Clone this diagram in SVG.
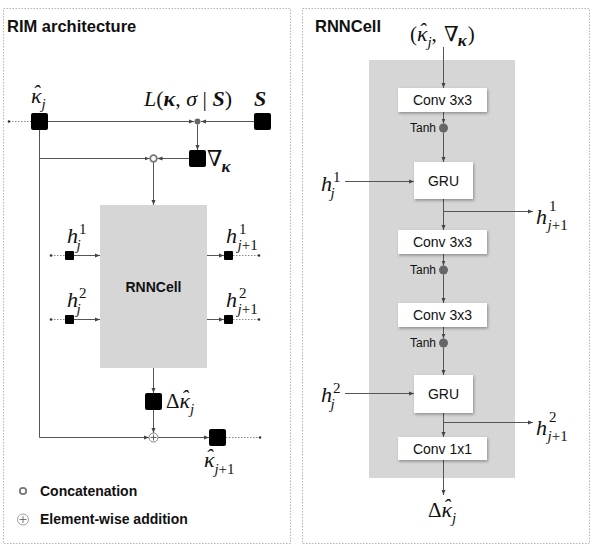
<svg xmlns="http://www.w3.org/2000/svg" width="592" height="552" viewBox="0 0 592 552">
<defs>
<marker id="ar" viewBox="0 0 6 6" refX="6" refY="3" markerWidth="5" markerHeight="5" orient="auto" markerUnits="userSpaceOnUse"><path d="M0,0.6 L6,3 L0,5.4 Z" fill="#444"/></marker>
<filter id="sh" x="-20%" y="-30%" width="140%" height="170%"><feDropShadow dx="1" dy="1.5" stdDeviation="1.5" flood-color="#000" flood-opacity="0.35"/></filter>
</defs>
<style>
.panel{fill:#fff;stroke:#b5b5b5;stroke-width:1;stroke-dasharray:1.5 1.5}
.ln{stroke:#555;stroke-width:1;fill:none}
.arr{marker-end:url(#ar)}
.dt{stroke:#888;stroke-width:1;stroke-dasharray:1.5 1.5;fill:none}
.end{fill:#333}
.sq{fill:#000}
.cell{fill:#d6d6d6}
.box{fill:#fff;filter:url(#sh)}
.tdot{fill:#666}
.sans{font-family:"Liberation Sans",Arial,Helvetica,sans-serif;fill:#111}
.ttl{font-size:16.5px;font-weight:bold}
.lbl{font-size:14px;text-anchor:middle}
.tanh{font-size:12px;text-anchor:end}
.leg{font-size:14px;font-weight:bold}
.m{font-family:"Liberation Serif","DejaVu Serif","Times New Roman",serif;font-style:italic;font-size:22px;fill:#111}
.up{font-style:normal}
.bd{font-weight:bold}
.sub{font-size:15px}
</style>
<rect width="592" height="552" fill="#fff"/>
<rect class="panel" x="3.5" y="8.5" width="287" height="535"/>
<rect class="panel" x="302.5" y="8.5" width="287" height="535"/>
<text class="sans ttl" x="7" y="32">RIM architecture</text>
<text class="sans ttl" x="315" y="32">RNNCell</text>

<g id="cell-bg"><rect class="cell" x="369" y="60" width="146" height="418"/></g>

<g id="connectors">
<path class="dt" d="M9 121.5H31"/><circle class="end" cx="9" cy="121.5" r="1.3"/>
<path class="ln arr" d="M48 121.5H194"/>
<path class="ln arr" d="M254 121.5H201"/>
<path class="ln arr" d="M197.5 124.5V150"/>
<path class="ln arr" d="M189 158.5H157.5"/>
<path class="ln arr" d="M39.5 130V437.5H149"/>
<path class="ln arr" d="M39.5 158.5H149.5"/>
<path class="ln arr" d="M153.5 162.5V205"/>
<path class="dt" d="M51 255.5H65"/><circle class="end" cx="51" cy="255.5" r="1.3"/>
<path class="ln arr" d="M74 255.5H100"/>
<path class="dt" d="M51 319.5H65"/><circle class="end" cx="51" cy="319.5" r="1.3"/>
<path class="ln arr" d="M74 319.5H100"/>
<path class="ln arr" d="M207 255.5H224"/>
<path class="dt" d="M233 255.5H259"/><circle class="end" cx="259" cy="255.5" r="1.3"/>
<path class="ln arr" d="M207 319.5H224"/>
<path class="dt" d="M233 319.5H259"/><circle class="end" cx="259" cy="319.5" r="1.3"/>
<path class="ln arr" d="M153.5 368V393"/>
<path class="ln arr" d="M153.5 410V433"/>
<path class="ln arr" d="M158 437.5H209"/>
<path class="dt" d="M226 437.5H260"/><circle class="end" cx="260" cy="437.5" r="1.3"/>

<path class="ln arr" d="M443.5 47V88"/>
<path class="ln arr" d="M443.5 112V123.5"/>
<path class="ln arr" d="M443.5 132.5V162"/>
<path class="ln arr" d="M345 181.5H414"/>
<path class="ln arr" d="M443.5 199V230"/>
<path class="ln arr" d="M443.5 211.5H533"/>
<path class="ln arr" d="M443.5 254V265.5"/>
<path class="ln arr" d="M443.5 274.5V303"/>
<path class="ln arr" d="M443.5 327V338.5"/>
<path class="ln arr" d="M443.5 347.5V375"/>
<path class="ln arr" d="M345 393.5H414"/>
<path class="ln arr" d="M443.5 413V437"/>
<path class="ln arr" d="M443.5 422.5H533"/>
<path class="ln arr" d="M443.5 460V495"/>
</g>

<g id="khat-j">
<rect class="sq" x="31" y="113" width="17" height="17" rx="2"/>
<text class="m" x="31" y="103">κ<tspan dx="-9" dy="-3">ˆ</tspan><tspan class="sub" dx="1.5" dy="9">j</tspan></text>
</g>
<g id="loss">
<circle class="tdot" cx="197.5" cy="121.5" r="3"/>
<text class="m" x="188" y="106" font-size="21" text-anchor="middle">L<tspan class="up">(</tspan><tspan class="bd">κ</tspan><tspan class="up">, </tspan>σ<tspan class="up"> | </tspan><tspan class="bd">S</tspan><tspan class="up">)</tspan></text>
</g>
<g id="S">
<rect class="sq" x="254" y="113" width="17" height="17" rx="2"/>
<text class="m bd" x="254" y="106">S</text>
</g>
<g id="grad">
<rect class="sq" x="189" y="150" width="17" height="17" rx="2"/>
<text class="m up" x="207" y="166" font-size="20">∇<tspan class="bd" font-style="italic" font-size="17" dx="-1" dy="6">κ</tspan></text>
</g>
<g id="concat">
<circle cx="153.5" cy="158.5" r="3.3" fill="#fff" stroke="#777" stroke-width="1.8"/>
</g>
<g id="rnncell-block">
<rect class="cell" x="100" y="205" width="107" height="163"/>
<text class="sans lbl" x="153.5" y="292" font-weight="bold">RNNCell</text>
</g>
<g id="h1-in">
<rect class="sq" x="65" y="251" width="9" height="9" rx="1"/>
<text class="m" x="67" y="243">h<tspan class="up sub" dx="1" dy="-9">1</tspan><tspan class="sub" dx="-10" dy="16">j</tspan></text>
</g>
<g id="h2-in">
<rect class="sq" x="65" y="315" width="9" height="9" rx="1"/>
<text class="m" x="67" y="307">h<tspan class="up sub" dx="1" dy="-9">2</tspan><tspan class="sub" dx="-10" dy="16">j</tspan></text>
</g>
<g id="h1-out">
<rect class="sq" x="224" y="251" width="9" height="9" rx="1"/>
<text class="m" x="226" y="243">h<tspan class="up sub" dx="2" dy="-9">1</tspan><tspan class="sub" dx="-9" dy="16">j<tspan class="up">+1</tspan></tspan></text>
</g>
<g id="h2-out">
<rect class="sq" x="224" y="315" width="9" height="9" rx="1"/>
<text class="m" x="226" y="307">h<tspan class="up sub" dx="2" dy="-9">2</tspan><tspan class="sub" dx="-9" dy="16">j<tspan class="up">+1</tspan></tspan></text>
</g>
<g id="delta">
<rect class="sq" x="145" y="393" width="17" height="17" rx="2"/>
<text class="m" x="166" y="408"><tspan class="up" font-size="21">Δ</tspan>κ<tspan dx="-9" dy="-3">ˆ</tspan><tspan class="sub" dx="1.5" dy="9">j</tspan></text>
</g>
<g id="add">
<circle cx="153.5" cy="437.5" r="4.5" fill="#fff" stroke="#777" stroke-width="0.9"/>
<path d="M150.5 437.5H156.5M153.5 434.5V440.5" stroke="#555" stroke-width="0.9"/>
</g>
<g id="khat-j1">
<rect class="sq" x="209" y="429" width="17" height="17" rx="2"/>
<text class="m" x="204" y="467">κ<tspan dx="-9" dy="-3">ˆ</tspan><tspan class="sub" dx="1.5" dy="10">j<tspan class="up">+1</tspan></tspan></text>
</g>
<g id="legend">
<circle cx="23" cy="491" r="3.2" fill="#fff" stroke="#777" stroke-width="1.8"/>
<text class="sans leg" x="40" y="496">Concatenation</text>
<circle cx="23" cy="519.5" r="5.5" fill="#fff" stroke="#888" stroke-width="0.8"/>
<path d="M19.5 519.5H26.5M23 516V523" stroke="#555" stroke-width="0.8"/>
<text class="sans leg" x="40" y="524">Element-wise addition</text>
</g>

<g id="input">
<text class="m" x="410" y="41"><tspan class="up" font-size="21">(</tspan>κ<tspan dx="-9" dy="-3">ˆ</tspan><tspan class="sub" dx="1.5" dy="9">j</tspan><tspan class="up" font-size="21" dy="-6">, </tspan><tspan class="up" font-size="21" dx="2">∇</tspan><tspan class="bd" font-size="17" dx="-1" dy="5">κ</tspan><tspan class="up" font-size="21" dx="1" dy="-5">)</tspan></text>
</g>
<g id="conv1">
<rect class="box" x="398" y="88" width="89" height="24"/>
<text class="sans lbl" x="442.5" y="105">Conv 3x3</text>
</g>
<g id="tanh1"><circle class="tdot" cx="443.5" cy="128" r="4.5"/><text class="sans tanh" x="436" y="132">Tanh</text></g>
<g id="gru1">
<rect class="box" x="414" y="162" width="59" height="37"/>
<text class="sans lbl" x="443.5" y="185.5">GRU</text>
</g>
<g id="r-h1-in"><text class="m" x="321" y="191">h<tspan class="up sub" dx="1" dy="-9">1</tspan><tspan class="sub" dx="-10" dy="16">j</tspan></text></g>
<g id="r-h1-out"><text class="m" x="536" y="224">h<tspan class="up sub" dx="2" dy="-13">1</tspan><tspan class="sub" dx="-9" dy="19">j<tspan class="up">+1</tspan></tspan></text></g>
<g id="conv2">
<rect class="box" x="398" y="230" width="89" height="24"/>
<text class="sans lbl" x="442.5" y="247">Conv 3x3</text>
</g>
<g id="tanh2"><circle class="tdot" cx="443.5" cy="270" r="4.5"/><text class="sans tanh" x="436" y="274">Tanh</text></g>
<g id="conv3">
<rect class="box" x="398" y="303" width="89" height="24"/>
<text class="sans lbl" x="442.5" y="320">Conv 3x3</text>
</g>
<g id="tanh3"><circle class="tdot" cx="443.5" cy="343" r="4.5"/><text class="sans tanh" x="436" y="347">Tanh</text></g>
<g id="gru2">
<rect class="box" x="414" y="375" width="59" height="38"/>
<text class="sans lbl" x="443.5" y="399">GRU</text>
</g>
<g id="r-h2-in"><text class="m" x="321" y="402">h<tspan class="up sub" dx="1" dy="-9">2</tspan><tspan class="sub" dx="-10" dy="16">j</tspan></text></g>
<g id="r-h2-out"><text class="m" x="536" y="435">h<tspan class="up sub" dx="2" dy="-13">2</tspan><tspan class="sub" dx="-9" dy="19">j<tspan class="up">+1</tspan></tspan></text></g>
<g id="conv1x1">
<rect class="box" x="398" y="437" width="89" height="23"/>
<text class="sans lbl" x="442.5" y="453.5">Conv 1x1</text>
</g>
<g id="output">
<text class="m" x="428" y="517"><tspan class="up" font-size="21">Δ</tspan>κ<tspan dx="-9" dy="-3">ˆ</tspan><tspan class="sub" dx="1.5" dy="9">j</tspan></text>
</g>
</svg>
